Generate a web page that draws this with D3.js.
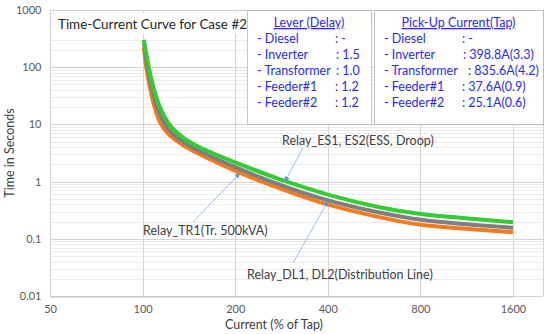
<!DOCTYPE html>
<html>
<head>
<meta charset="utf-8">
<script src="https://cdn.jsdelivr.net/npm/d3@7"></script>
<style>
  body { margin: 0; background: #fff; }
  text { font-family: Lato, "Noto Sans", sans-serif; }
</style>
</head>
<body>
<div id="chart"></div>
<script>
// axis ticks
var currentTicks = [50, 100, 200, 400, 800, 1600];
var timeTicks = [0.01, 0.1, 1, 10, 100, 1000];

// curves (current in % of tap, time in s)
var esCurrent = [101, 104.5, 110, 120, 139, 207, 290, 400, 600, 800, 1200, 1600];
var esTime = [300, 100, 30, 10, 4.7, 2.0, 1.0, 0.58, 0.34, 0.265, 0.222, 0.195];

var dlCurrent = [101, 103.5, 108.5, 116.5, 132, 207, 260, 400, 600, 800, 1200, 1600];
var dlTime = [265, 100, 30, 10, 4.7, 1.65, 1.0, 0.45, 0.28, 0.21, 0.174, 0.156];

var trCurrent = [101, 102.5, 107, 113, 127, 207, 244, 400, 600, 800, 1200, 1600];
var trTime = [220, 100, 30, 10, 4.7, 1.4, 1.0, 0.374, 0.234, 0.168, 0.147, 0.13];

// legend boxes
var relayNames = ["- Diesel", "- Inverter", "- Transformer", "- Feeder#1", "- Feeder#2"];
var leverValues = [": -", ": 1.5", ": 1.0", ": 1.2", ": 1.2"];
var tapValues = [": -", ": 398.8A(3.3)", ": 835.6A(4.2)", ": 37.6A(0.9)", ": 25.1A(0.6)"];

var svgWidth = 550;
var svgHeight = 334;

var svg = d3.select("#chart")
  .append("svg")
  .attr("width", svgWidth)
  .attr("height", svgHeight);

var plotLeft = 50, plotRight = 543, plotTop = 10, plotBottom = 296;

var x = d3.scaleLog().base(2).domain([50, 1600]).range([50, 513]);
var y = d3.scaleLog().domain([0.01, 1000]).range([plotBottom, plotTop]);

// minor horizontal gridlines
var minor = [];
timeTicks.slice(0, -1).forEach(function(d) {
  for (var k = 2; k <= 9; k++) minor.push(d * k);
});
svg.append("g").selectAll("line")
  .data(minor)
  .enter().append("line")
  .attr("x1", plotLeft).attr("x2", plotRight)
  .attr("y1", d => Math.round(y(d)) + 0.5).attr("y2", d => Math.round(y(d)) + 0.5)
  .attr("stroke", "#ececec").attr("stroke-width", 1);

// major gridlines
svg.append("g").selectAll("line")
  .data(timeTicks)
  .enter().append("line")
  .attr("x1", plotLeft).attr("x2", plotRight)
  .attr("y1", d => Math.round(y(d)) + 0.5).attr("y2", d => Math.round(y(d)) + 0.5)
  .attr("stroke", "#d4d4d4").attr("stroke-width", 1);

svg.append("g").selectAll("line")
  .data(currentTicks)
  .enter().append("line")
  .attr("x1", d => Math.round(x(d)) + 0.5).attr("x2", d => Math.round(x(d)) + 0.5)
  .attr("y1", plotTop).attr("y2", plotBottom)
  .attr("stroke", "#d4d4d4").attr("stroke-width", 1);

svg.append("line")
  .attr("x1", plotRight + 0.5).attr("x2", plotRight + 0.5)
  .attr("y1", plotTop).attr("y2", plotBottom)
  .attr("stroke", "#d4d4d4");

// axes
var bottomAxis = d3.axisBottom(x).tickValues(currentTicks).tickFormat(d3.format("d")).tickSize(0).tickPadding(9);
var leftAxis = d3.axisLeft(y).tickValues(timeTicks).tickFormat(d => String(d)).tickSize(0).tickPadding(9);

var xAxis = svg.append("g")
  .attr("transform", `translate(0, ${plotBottom + 0.5})`)
  .call(bottomAxis);
var yAxis = svg.append("g")
  .attr("transform", `translate(${plotLeft + 0.5}, 0)`)
  .call(leftAxis);

[xAxis, yAxis].forEach(function(g) {
  g.select(".domain").attr("stroke", "#bfbfbf");
  g.selectAll("text")
    .attr("fill", "#595959")
    .style("font-size", "11px")
    .style("font-family", "Lato, 'Noto Sans', sans-serif");
});
yAxis.select(".domain").remove();

// axis titles
svg.append("text")
  .attr("x", 274).attr("y", 329)
  .attr("text-anchor", "middle")
  .attr("fill", "#404040")
  .style("font-size", "12.5px")
  .text("Current (% of Tap)");

svg.append("text")
  .attr("transform", "rotate(-90)")
  .attr("x", -153).attr("y", 14)
  .attr("text-anchor", "middle")
  .attr("fill", "#404040")
  .style("font-size", "12.5px")
  .text("Time in Seconds");

// curves
var line = d3.line()
  .x(d => x(d[0]))
  .y(d => y(d[1]))
  .curve(d3.curveBasis);

var curves = [
  { current: trCurrent, time: trTime, color: "#f47a20" },
  { current: dlCurrent, time: dlTime, color: "#7f7f7f" },
  { current: esCurrent, time: esTime, color: "#33cc33" }
];

curves.forEach(function(c) {
  var pts = c.current.map((d, i) => [d, c.time[i]]);
  svg.append("path")
    .datum(pts)
    .attr("d", line)
    .attr("fill", "none")
    .attr("stroke", c.color)
    .attr("stroke-width", 4);
});

// title
svg.append("rect")
  .attr("x", 53).attr("y", 13).attr("width", 196).attr("height", 21)
  .attr("fill", "#fff");
var title = svg.append("text")
  .attr("x", 58).attr("y", 29)
  .attr("fill", "#262626")
  .style("font-size", "14px")
  .text("Time-Current Curve for Case #2");
// shrink to the width it takes in the picture
var tw = title.node().getComputedTextLength();
title.style("font-size", (14 * 189 / tw).toFixed(2) + "px");

// annotation arrows
var defs = svg.append("defs");
defs.append("marker")
  .attr("id", "arrow")
  .attr("viewBox", "0 0 10 10")
  .attr("refX", 9).attr("refY", 5)
  .attr("markerWidth", 7).attr("markerHeight", 7)
  .attr("orient", "auto")
  .append("path")
  .attr("d", "M0,0 L10,5 L0,10 z")
  .attr("fill", "#5b9bd5");

var notes = [
  { text: "Relay_ES1, ES2(ESS, Droop)", tx: 282, ty: 145, from: [303, 148], at: [esCurrent, esTime, 290] },
  { text: "Relay_TR1(Tr. 500kVA)", tx: 143, ty: 235, from: [193, 222], at: [trCurrent, trTime, 207] },
  { text: "Relay_DL1, DL2(Distribution Line)", tx: 247, ty: 279, from: [293, 263], at: [dlCurrent, dlTime, 400] }
];

notes.forEach(function(n) {
  var cur = n.at[0], tim = n.at[1];
  var idx = cur.indexOf(n.at[2]);
  var px = x(cur[idx]), py = y(tim[idx]);
  svg.append("line")
    .attr("x1", n.from[0]).attr("y1", n.from[1])
    .attr("x2", px).attr("y2", py)
    .attr("stroke", "#7fb0e0").attr("stroke-width", 0.8)
    .attr("marker-end", "url(#arrow)");
  svg.append("text")
    .attr("x", n.tx).attr("y", n.ty)
    .attr("fill", "#404040")
    .style("font-size", "12.5px")
    .text(n.text);
});

// legend boxes
function legendBox(x0, w, title, names, values, valX) {
  var g = svg.append("g");
  g.append("rect")
    .attr("x", x0 + 0.5).attr("y", 10.5).attr("width", w).attr("height", 114)
    .attr("fill", "#fff")
    .attr("stroke", "#8c8c8c")
    .attr("stroke-dasharray", "1,1");
  g.append("text")
    .attr("x", x0 + w / 2).attr("y", 27)
    .attr("text-anchor", "middle")
    .attr("fill", "#2a2af0")
    .attr("text-decoration", "underline")
    .style("font-size", "12.5px")
    .text(title);
  g.selectAll(".nm")
    .data(names)
    .enter().append("text")
    .attr("x", x0 + 10).attr("y", (d, i) => 43 + i * 16)
    .attr("fill", "#2a2af0")
    .style("font-size", "12.5px")
    .text(d => d);
  g.selectAll(".vl")
    .data(values)
    .enter().append("text")
    .attr("x", (d, i) => x0 + valX[i]).attr("y", (d, i) => 43 + i * 16)
    .attr("fill", "#2a2af0")
    .style("font-size", "12.5px")
    .text(d => d);
}

legendBox(247, 124, "Lever (Delay)", relayNames, leverValues, [88, 89, 89, 88, 88]);
legendBox(374, 169, "Pick-Up Current(Tap)", relayNames, tapValues, [88, 89, 94, 88, 88]);
</script>
</body>
</html>
